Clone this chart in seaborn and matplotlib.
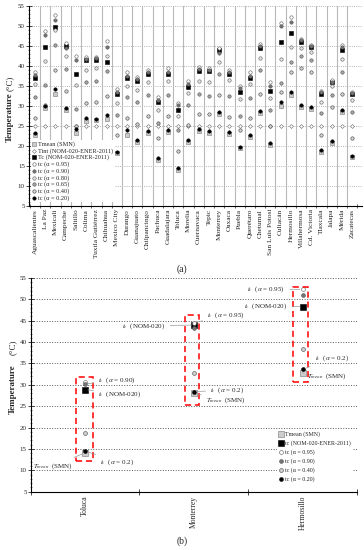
import numpy as np
import matplotlib
matplotlib.use("Agg")
import matplotlib.pyplot as plt
import seaborn as sns
from matplotlib.patches import Rectangle
from matplotlib.ticker import MultipleLocator

# city list (panel a)
cities = ["Aguascalientes", "La Paz", "Mexicali", "Campeche", "Saltillo", "Colima",
          "Tuxtla Gutiérrez", "Chihuahua", "Mexico City", "Durango", "Guanajuato",
          "Chilpancingo", "Pachuca", "Guadalajara", "Toluca", "Morelia", "Cuernavaca",
          "Tepic", "Monterrey", "Oaxaca", "Puebla", "Querétaro", "Chetumal",
          "San Luis Potosí", "Culiacán", "Hermosillo", "Villahermosa", "Cd. Victoria",
          "Tlaxcala", "Jalapa", "Mérida", "Zacatecas"]

tmean = [22.7, 29.6, 33.1, 29.0, 23.2, 26.3, 26.4, 26.75, 18.3, 22.7, 21.1, 23.3, 16.5, 23.6, 14.1, 20.9,
         23.75, 23.3, 28.0, 23.0, 19.4, 22.3, 28.3, 20.25, 30.0, 32.8, 29.8, 29.2, 18.6, 20.8, 28.4, 17.25]
tint = [25.0, 25.0, 25.0, 25.0, 25.0, 25.0, 25.0, 25.0, 25.0, 25.0, 25.0, 25.0, 25.0, 25.0, 25.0, 25.0,
        25.0, 25.0, 25.0, 25.0, 25.0, 25.0, 25.0, 25.0, 25.0, 25.0, 25.0, 25.0, 25.0, 25.0, 25.0, 25.0]
tc_nom = [37.1, 44.8, 49.8, 44.9, 38.0, 41.5, 41.5, 41.1, 33.1, 37.0, 36.2, 38.0, 30.9, 38.0, 28.9, 34.8,
          38.75, 38.7, 44.0, 38.0, 33.5, 37.1, 44.6, 33.7, 45.9, 48.3, 46.0, 44.7, 33.0, 35.9, 44.0, 33.0]
tc95 = [38.6, 48.8, 52.7, 45.8, 42.5, 42.2, 42.2, 46.3, 34.2, 38.5, 37.2, 39.0, 32.3, 39.4, 30.7, 36.2,
        39.8, 39.5, 44.5, 39.0, 35.0, 38.6, 45.5, 36.0, 50.8, 52.35, 46.8, 45.3, 33.8, 36.4, 45.2, 33.5]
tc90 = [37.8, 47.7, 51.5, 44.4, 41.4, 41.8, 41.9, 44.7, 33.6, 37.6, 36.8, 38.6, 31.5, 38.6, 30.2, 35.4,
        39.2, 39.0, 43.3, 38.5, 34.4, 37.6, 44.9, 35.0, 50.0, 51.0, 46.4, 44.9, 33.4, 36.1, 44.7, 33.2]
tc80 = [35.4, 41.3, 49.0, 42.5, 35.3, 39.0, 39.4, 42.5, 30.8, 35.0, 34.0, 36.1, 29.1, 36.2, 27.6, 33.2,
        36.3, 36.0, 40.9, 36.5, 31.8, 35.4, 42.0, 32.0, 41.7, 44.7, 44.5, 43.6, 31.1, 34.9, 41.7, 31.6]
tc65 = [32.2, 35.2, 45.2, 39.2, 29.2, 36.1, 36.3, 38.8, 27.75, 32.2, 31.0, 32.8, 25.7, 32.8, 24.0, 30.3,
        33.0, 32.5, 38.0, 32.5, 27.5, 32.1, 38.9, 29.0, 35.7, 41.0, 42.6, 41.5, 28.2, 32.8, 38.6, 28.5]
tc40 = [27.0, 30.3, 39.1, 33.8, 25.0, 30.7, 31.1, 32.6, 22.7, 27.0, 25.5, 27.5, 21.9, 27.5, 18.8, 25.2,
        28.0, 28.0, 32.7, 27.3, 24.0, 27.1, 33.1, 25.0, 33.6, 38.5, 39.4, 38.6, 22.75, 29.7, 33.0, 22.0]
tc20 = [23.3, 29.9, 34.2, 29.4, 24.2, 26.9, 26.7, 27.75, 18.6, 24.0, 21.6, 23.7, 17.0, 24.0, 14.5, 21.5,
        24.2, 23.8, 28.4, 23.5, 19.8, 22.8, 28.7, 20.7, 31.0, 33.6, 30.3, 29.8, 19.0, 21.3, 28.9, 17.6]

# panel b: the three selected cities
cities_b = ["Toluca", "Monterrey", "Hermosillo"]

sns.set_style("white")
plt.rcParams['font.family'] = ['Liberation Serif', 'DejaVu Serif']
plt.rcParams['mathtext.fontset'] = 'stix'

fig = plt.figure(figsize=(3.64, 5.5), dpi=100)
ax1 = fig.add_axes([29 / 364, 1 - 206 / 550, 333 / 364, 200 / 550])
ax2 = fig.add_axes([30.7 / 364, 1 - 491.7 / 550, 326.3 / 364, 213.7 / 550])

# (values, label, marker, face, edge, size)
styles = {
    'tmean': ('s', '0.8', '0.45', 10),
    'tint': ('D', 'white', '0.4', 4),
    'tc_nom': ('s', 'black', 'black', 10),
    'tc95': ('o', 'white', '0.35', 6),
    'tc90': ('o', '0.45', '0.35', 6),
    'tc80': ('o', '0.9', '0.35', 6),
    'tc65': ('o', '0.65', '0.3', 6),
    'tc40': ('o', '0.82', '0.25', 6),
    'tc20': ('o', 'black', 'black', 6),
}

series_a = [
    (tmean, 'Tmean (SMN)', 'tmean'),
    (tint, 'Tint (NOM-020-ENER-2011)', 'tint'),
    (tc_nom, 'Tc (NOM-020-ENER-2011)', 'tc_nom'),
    (tc95, 'tc (α = 0.95)', 'tc95'),
    (tc90, 'tc (α = 0.90)', 'tc90'),
    (tc80, 'tc (α = 0.80)', 'tc80'),
    (tc65, 'tc (α = 0.65)', 'tc65'),
    (tc40, 'tc (α = 0.40)', 'tc40'),
    (tc20, 'tc (α = 0.20)', 'tc20'),
]

# ---------- panel (a)
x = np.arange(len(cities))
for b in x[:-1] + 0.5:
    ax1.axvline(b, color='0.72', lw=0.8, zorder=1)
for vals, lab, key in series_a:
    m, fc, ec, s = styles[key]
    sns.scatterplot(x=x, y=vals, marker=m, color=fc, edgecolor=ec, s=s, linewidth=0.4,
                    label=lab, ax=ax1, zorder=3)

ax1.set_xlim(-0.59, 31.96)
ax1.set_ylim(5, 55)
ax1.set_yticks(range(5, 56, 5))
ax1.yaxis.set_minor_locator(MultipleLocator(1))
ax1.yaxis.grid(True, ls=':', color='0.6', lw=0.6, zorder=0)
ax1.set_xticks(x)
ax1.set_xticklabels(cities, rotation=90, fontsize=5.3)
ax1.set_xticks(np.arange(-0.5, 32, 1), minor=True)
ax1.tick_params(axis='x', which='major', length=0, pad=2, bottom=True)
ax1.tick_params(axis='x', which='minor', direction='inout', length=3, width=0.5, bottom=True)
ax1.tick_params(axis='y', which='major', direction='inout', length=4, width=0.6, labelsize=5, pad=1, left=True)
ax1.tick_params(axis='y', which='minor', direction='inout', length=2, width=0.4, left=True)
ax1.set_xlabel('')
ax1.set_ylabel('')
for sp in ['top', 'right']:
    ax1.spines[sp].set_visible(False)
for sp in ['left', 'bottom']:
    ax1.spines[sp].set_color('black')
    ax1.spines[sp].set_linewidth(0.8)
ax1.legend(loc='upper left', bbox_to_anchor=(0.005, 0.33), fontsize=4.5, frameon=True,
           framealpha=1, edgecolor='none', facecolor='white', borderpad=0.2,
           handletextpad=0.2, labelspacing=0.15, borderaxespad=0, handlelength=0.8)

# ---------- panel (b)
idx_b = [cities.index(c) for c in cities_b]
xb = np.arange(len(cities_b))
series_b = [
    (tmean, 'Tmean (SMN)', 'tmean'),
    (tc_nom, 'tc (NOM-020-ENER-2011)', 'tc_nom'),
    (tc95, 'tc (α = 0.95)', 'tc95'),
    (tc90, 'tc (α = 0.90)', 'tc90'),
    (tc40, 'tc (α = 0.40)', 'tc40'),
    (tc20, 'tc (α = 0.20)', 'tc20'),
]
for vals, lab, key in series_b:
    m, fc, ec, s = styles[key]
    sns.scatterplot(x=xb, y=[vals[i] for i in idx_b], marker=m, color=fc, edgecolor=ec,
                    s=s * 1.3, linewidth=0.4, label=lab, ax=ax2, zorder=3)

ax2.set_xlim(-0.5, 2.5)
ax2.set_ylim(5, 55)
ax2.set_yticks(range(5, 56, 5))
ax2.yaxis.set_minor_locator(MultipleLocator(1))
ax2.yaxis.grid(True, ls=':', color='0.35', lw=0.7, zorder=0)
ax2.set_xticks(xb)
ax2.set_xticklabels(cities_b, rotation=90, fontsize=5.5, va='top')
ax2.set_xticks(np.arange(-0.5, 3, 1), minor=True)
ax2.tick_params(axis='x', which='major', length=0, pad=3, bottom=True)
ax2.tick_params(axis='x', which='minor', direction='inout', length=5, width=0.6, bottom=True)
ax2.tick_params(axis='y', which='major', direction='inout', length=4, width=0.6, labelsize=5, pad=1, left=True)
ax2.tick_params(axis='y', which='minor', direction='inout', length=2, width=0.4, left=True)
ax2.set_xlabel('')
ax2.set_ylabel('')
for sp in ['top', 'right']:
    ax2.spines[sp].set_visible(False)
for sp in ['left', 'bottom']:
    ax2.spines[sp].set_color('black')
    ax2.spines[sp].set_linewidth(0.8)
ax2.legend(loc='upper left', bbox_to_anchor=(0.755, 0.29), fontsize=4.3, frameon=True,
           framealpha=1, edgecolor='none', facecolor='white', borderpad=0.2,
           handletextpad=0.3, labelspacing=0.55, borderaxespad=0, handlelength=0.8)

# red dashed boxes
for x0, x1, y0, y1 in [(-0.084, 0.07, 12.1, 31.8), (0.92, 1.05, 25.3, 46.3), (1.912, 2.05, 30.7, 53.0)]:
    ax2.add_patch(Rectangle((x0, y0), x1 - x0, y1 - y0, fill=False, ec='red', lw=1.1,
                            ls=(0, (4, 2.5)), zorder=4))

# callouts
ann = dict(arrowstyle='-', color='0.6', lw=0.5, shrinkA=1, shrinkB=2)
callouts = [
    (r'$t_c$  ($\alpha$ = 0.90)', (0, 30.2), (0.12, 31.1), 'left'),
    (r'$t_c$  (NOM-020)', (0, 28.9), (0.12, 27.9), 'left'),
    (r'$t_c$  ($\alpha$ = 0.2)', (0, 14.5), (0.14, 12.0), 'left'),
    (r'$T_{mean}$  (SMN)', (0, 14.1), (-0.11, 11.0), 'right'),
    (r'$t_c$  ($\alpha$ = 0.95)', (1, 44.5), (1.12, 46.3), 'left'),
    (r'$t_c$  (NOM-020)', (1, 44.0), (0.74, 43.8), 'right'),
    (r'$t_c$  ($\alpha$ = 0.2)', (1, 28.4), (1.15, 28.8), 'left'),
    (r'$T_{mean}$  (SMN)', (1, 28.0), (1.11, 26.5), 'left'),
    (r'$t_c$  ($\alpha$ = 0.95)', (2, 52.35), (1.84, 52.4), 'right'),
    (r'$t_c$  (NOM-020)', (2, 48.3), (1.86, 48.3), 'right'),
    (r'$t_c$  ($\alpha$ = 0.2)', (2, 33.6), (2.11, 36.3), 'left'),
    (r'$T_{mean}$  (SMN)', (2, 32.8), (2.04, 32.1), 'left'),
]
for txt, xy, xyt, ha in callouts:
    ax2.annotate(txt, xy=xy, xytext=xyt, ha=ha, va='center', fontsize=5,
                 arrowprops=ann, zorder=5)

# axis titles and panel tags
for yc_t, yc_u, xc in [(117, 83, 9.5), (389, 347, 12.5)]:
    fig.text(xc / 364, 1 - yc_t / 550, 'Temperature', rotation=90, ha='center', va='center',
             fontsize=6.5, fontweight='bold')
    fig.text(xc / 364, 1 - yc_u / 550, '(°C)', rotation=90, ha='center', va='center', fontsize=6.5)
fig.text(182 / 364, 1 - 269 / 550, '(a)', ha='center', va='center', fontsize=7)
fig.text(182 / 364, 1 - 541 / 550, '(b)', ha='center', va='center', fontsize=7)

fig.savefig('out.png', dpi=100)
